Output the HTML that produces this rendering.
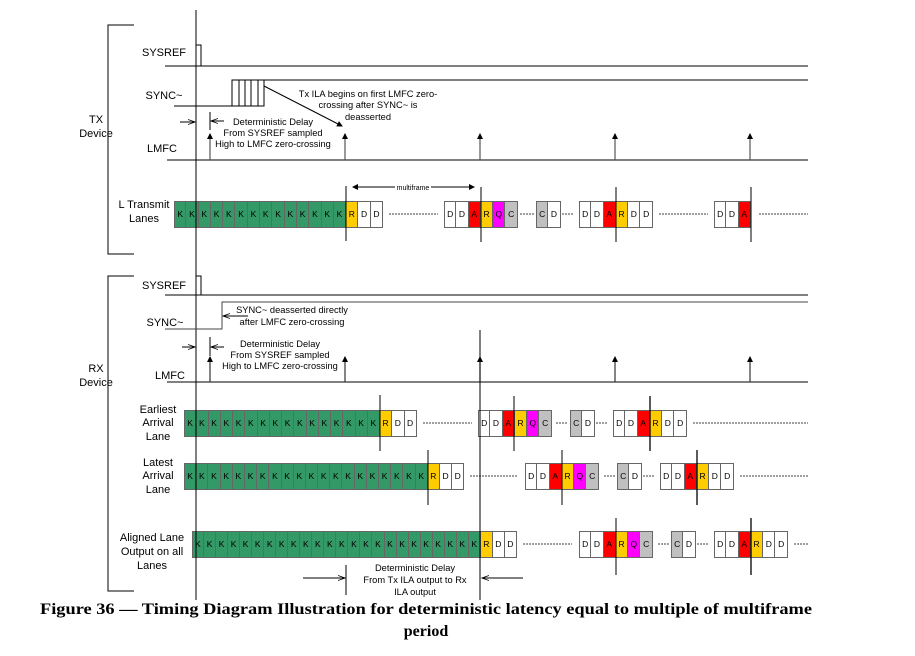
<!DOCTYPE html>
<html><head><meta charset="utf-8"><style>
body{margin:0;width:915px;height:656px;background:#fff;position:relative;overflow:hidden;font-family:"Liberation Sans",sans-serif}
.row{position:absolute;display:flex;height:27px;z-index:1}
.row i{font-style:normal;width:var(--w);box-sizing:border-box;border:1px solid #666;border-left:none;font-size:8.5px;line-height:25px;text-align:center;color:#000;flex:none}
.row i:first-child{border-left:1px solid #666}
.k{background:#339966}.r{background:#ffcc00}.a{background:#ff0000}.q{background:#ff00ff}.c{background:#c0c0c0}.d{background:#fff}
svg{position:absolute;left:0;top:0;z-index:2}
</style></head><body>
<div class="row" style="left:174px;top:201px;--w:12.3px"><i class=k>K</i><i class=k>K</i><i class=k>K</i><i class=k>K</i><i class=k>K</i><i class=k>K</i><i class=k>K</i><i class=k>K</i><i class=k>K</i><i class=k>K</i><i class=k>K</i><i class=k>K</i><i class=k>K</i><i class=k>K</i><i class=r>R</i><i class=d>D</i><i class=d>D</i></div>
<div class="row" style="left:444px;top:201px;--w:12.3px"><i class=d>D</i><i class=d>D</i><i class=a>A</i><i class=r>R</i><i class=q>Q</i><i class=c>C</i></div>
<div class="row" style="left:536px;top:201px;--w:12.3px"><i class=c>C</i><i class=d>D</i></div>
<div class="row" style="left:579px;top:201px;--w:12.3px"><i class=d>D</i><i class=d>D</i><i class=a>A</i><i class=r>R</i><i class=d>D</i><i class=d>D</i></div>
<div class="row" style="left:714px;top:201px;--w:12.3px"><i class=d>D</i><i class=d>D</i><i class=a>A</i></div>

<div class="row" style="left:184px;top:410px;--w:12.25px"><i class=k>K</i><i class=k>K</i><i class=k>K</i><i class=k>K</i><i class=k>K</i><i class=k>K</i><i class=k>K</i><i class=k>K</i><i class=k>K</i><i class=k>K</i><i class=k>K</i><i class=k>K</i><i class=k>K</i><i class=k>K</i><i class=k>K</i><i class=k>K</i><i class=r>R</i><i class=d>D</i><i class=d>D</i></div>
<div class="row" style="left:478px;top:410px;--w:12.3px"><i class=d>D</i><i class=d>D</i><i class=a>A</i><i class=r>R</i><i class=q>Q</i><i class=c>C</i></div>
<div class="row" style="left:570px;top:410px;--w:12.3px"><i class=c>C</i><i class=d>D</i></div>
<div class="row" style="left:613px;top:410px;--w:12.3px"><i class=d>D</i><i class=d>D</i><i class=a>A</i><i class=r>R</i><i class=d>D</i><i class=d>D</i></div>

<div class="row" style="left:184px;top:463px;--w:12.2px"><i class=k>K</i><i class=k>K</i><i class=k>K</i><i class=k>K</i><i class=k>K</i><i class=k>K</i><i class=k>K</i><i class=k>K</i><i class=k>K</i><i class=k>K</i><i class=k>K</i><i class=k>K</i><i class=k>K</i><i class=k>K</i><i class=k>K</i><i class=k>K</i><i class=k>K</i><i class=k>K</i><i class=k>K</i><i class=k>K</i><i class=r>R</i><i class=d>D</i><i class=d>D</i></div>
<div class="row" style="left:525px;top:463px;--w:12.3px"><i class=d>D</i><i class=d>D</i><i class=a>A</i><i class=r>R</i><i class=q>Q</i><i class=c>C</i></div>
<div class="row" style="left:617px;top:463px;--w:12.3px"><i class=c>C</i><i class=d>D</i></div>
<div class="row" style="left:660px;top:463px;--w:12.3px"><i class=d>D</i><i class=d>D</i><i class=a>A</i><i class=r>R</i><i class=d>D</i><i class=d>D</i></div>

<div class="row" style="left:192px;top:531px;--w:12.04px"><i class=k>K</i><i class=k>K</i><i class=k>K</i><i class=k>K</i><i class=k>K</i><i class=k>K</i><i class=k>K</i><i class=k>K</i><i class=k>K</i><i class=k>K</i><i class=k>K</i><i class=k>K</i><i class=k>K</i><i class=k>K</i><i class=k>K</i><i class=k>K</i><i class=k>K</i><i class=k>K</i><i class=k>K</i><i class=k>K</i><i class=k>K</i><i class=k>K</i><i class=k>K</i><i class=k>K</i><i class=r>R</i><i class=d>D</i><i class=d>D</i></div>
<div class="row" style="left:579px;top:531px;--w:12.3px"><i class=d>D</i><i class=d>D</i><i class=a>A</i><i class=r>R</i><i class=q>Q</i><i class=c>C</i></div>
<div class="row" style="left:671px;top:531px;--w:12.3px"><i class=c>C</i><i class=d>D</i></div>
<div class="row" style="left:714px;top:531px;--w:12.3px"><i class=d>D</i><i class=d>D</i><i class=a>A</i><i class=r>R</i><i class=d>D</i><i class=d>D</i></div>

<svg width="915" height="656" viewBox="0 0 915 656">
<defs><marker id="ah" markerWidth="6" markerHeight="6" refX="5" refY="3" orient="auto" markerUnits="userSpaceOnUse"><path d="M0,0 L6,3 L0,6z" fill="#000"/></marker>
<marker id="ao" markerWidth="8" markerHeight="6" refX="7" refY="3" orient="auto" markerUnits="userSpaceOnUse"><path d="M0,0.5 L7,3 L0,5.5" fill="none" stroke="#000" stroke-width="0.8"/></marker></defs>
<g fill="none" stroke="#000" stroke-width="1">
<path d="M134,25 H108 V254 H134"/>
<path d="M134,276 H108 V591 H134"/>
<line x1="196" y1="10" x2="196" y2="600"/>
<path d="M165,66 H201 V45 H196"/><line x1="201" y1="66" x2="808" y2="66"/>
<path d="M174,106 H232 V80 H808"/>
<path d="M232,106 H264 V80 M239,80 V106 M245,80 V106 M251,80 V106 M258,80 V106"/>
<line x1="264" y1="86" x2="342" y2="126" marker-end="url(#ah)"/>
<line x1="167" y1="160" x2="808" y2="160"/>
<g stroke="#555" stroke-width="1.2"><line x1="210" y1="160" x2="210" y2="134" marker-end="url(#ah)"/><line x1="345" y1="160" x2="345" y2="134" marker-end="url(#ah)"/><line x1="480" y1="160" x2="480" y2="134" marker-end="url(#ah)"/><line x1="615" y1="160" x2="615" y2="134" marker-end="url(#ah)"/><line x1="750" y1="160" x2="750" y2="134" marker-end="url(#ah)"/></g>
<line x1="180" y1="122" x2="195" y2="122" marker-end="url(#ao)"/>
<line x1="210" y1="112" x2="210" y2="130"/>
<line x1="224" y1="121" x2="211" y2="121" marker-end="url(#ao)"/>
<line x1="360" y1="187" x2="353" y2="187" marker-end="url(#ah)"/>
<line x1="360" y1="187" x2="474" y2="187" marker-end="url(#ah)"/>
<line x1="346" y1="186" x2="346" y2="241"/><line x1="481" y1="187" x2="481" y2="242"/><line x1="616" y1="187" x2="616" y2="242"/><line x1="751" y1="187" x2="751" y2="242"/>
<g stroke-dasharray="2,1" stroke-width="0.8"><line x1="389" y1="214" x2="438" y2="214"/><line x1="520" y1="214" x2="534" y2="214"/><line x1="562" y1="214" x2="574" y2="214"/><line x1="659" y1="214" x2="708" y2="214"/><line x1="759" y1="214" x2="808" y2="214"/>
<line x1="423" y1="423" x2="472" y2="423"/><line x1="556" y1="423" x2="568" y2="423"/><line x1="596" y1="423" x2="607" y2="423"/><line x1="693" y1="423" x2="808" y2="423"/>
<line x1="470" y1="476" x2="518" y2="476"/><line x1="604" y1="476" x2="615" y2="476"/><line x1="643" y1="476" x2="654" y2="476"/><line x1="740" y1="476" x2="808" y2="476"/>
<line x1="523" y1="544" x2="572" y2="544"/><line x1="658" y1="544" x2="670" y2="544"/><line x1="697" y1="544" x2="708" y2="544"/><line x1="794" y1="544" x2="808" y2="544"/></g>
<path d="M165,295 H201 V276 H196"/><line x1="201" y1="295" x2="808" y2="295"/>
<path d="M165,329 H222 V302 H808" stroke="#444"/>
<line x1="248" y1="316" x2="223" y2="316" marker-end="url(#ao)"/>
<line x1="167" y1="382" x2="808" y2="382"/>
<g stroke="#333" stroke-width="1.2"><line x1="210" y1="382" x2="210" y2="357" marker-end="url(#ah)"/><line x1="345" y1="382" x2="345" y2="357" marker-end="url(#ah)"/><line x1="480" y1="382" x2="480" y2="357" marker-end="url(#ah)"/><line x1="615" y1="382" x2="615" y2="357" marker-end="url(#ah)"/><line x1="750" y1="382" x2="750" y2="357" marker-end="url(#ah)"/></g>
<line x1="480" y1="330" x2="480" y2="600"/>
<line x1="182" y1="347" x2="195" y2="347" marker-end="url(#ao)"/>
<line x1="210" y1="337" x2="210" y2="356"/>
<line x1="224" y1="347" x2="211" y2="347" marker-end="url(#ao)"/>
<line x1="380" y1="395" x2="380" y2="451"/><line x1="514" y1="396" x2="514" y2="451"/><line x1="650" y1="396" x2="650" y2="451" stroke-width="1.3"/>
<line x1="428" y1="450" x2="428" y2="505"/><line x1="562" y1="450" x2="562" y2="505"/><line x1="697" y1="450" x2="697" y2="505" stroke-width="1.3"/>
<line x1="616" y1="518" x2="616" y2="575"/><line x1="751" y1="518" x2="751" y2="575" stroke-width="1.3"/>
<line x1="303" y1="578" x2="345" y2="578" marker-end="url(#ao)"/>
<line x1="346" y1="565" x2="346" y2="595"/>
<line x1="523" y1="578" x2="482" y2="578" marker-end="url(#ao)"/>
</g>
<rect x="395" y="183" width="36" height="8" fill="#fff"/>
<g font-family="Liberation Sans, sans-serif" font-size="11" text-anchor="middle" fill="#000">
<text x="96" y="123">TX</text><text x="96" y="137">Device</text>
<text x="96" y="372">RX</text><text x="96" y="386">Device</text>
<text x="164" y="56">SYSREF</text><text x="164" y="99">SYNC~</text><text x="162" y="152">LMFC</text>
<text x="144" y="208">L Transmit</text><text x="144" y="222">Lanes</text>
<text x="164" y="289">SYSREF</text><text x="165" y="326">SYNC~</text><text x="170" y="379">LMFC</text>
<text x="158" y="413">Earliest</text><text x="158" y="426">Arrival</text><text x="158" y="440">Lane</text>
<text x="158" y="466">Latest</text><text x="158" y="479">Arrival</text><text x="158" y="493">Lane</text>
<text x="152" y="541">Aligned Lane</text><text x="152" y="555">Output on all</text><text x="152" y="569">Lanes</text>
</g>
<g font-family="Liberation Sans, sans-serif" font-size="9.3" text-anchor="middle" fill="#000">
<text x="368" y="97">Tx ILA begins on first LMFC zero-</text><text x="368" y="108">crossing after SYNC~ is</text><text x="368" y="120">deasserted</text>
<text x="273" y="125">Deterministic Delay</text><text x="273" y="136">From SYSREF sampled</text><text x="273" y="147">High to LMFC zero-crossing</text>
<text x="413" y="190" font-size="7">multiframe</text>
<text x="292" y="313">SYNC~ deasserted directly</text><text x="292" y="325">after LMFC zero-crossing</text>
<text x="280" y="347">Deterministic Delay</text><text x="280" y="358">From SYSREF sampled</text><text x="280" y="369">High to LMFC zero-crossing</text>
<text x="415" y="571">Deterministic Delay</text><text x="415" y="583">From Tx ILA output to Rx</text><text x="415" y="595">ILA output</text>
</g>
<g font-family="Liberation Serif, serif" font-weight="bold" font-size="16" text-anchor="middle">
<text x="426" y="614" textLength="772" lengthAdjust="spacingAndGlyphs">Figure 36 — Timing Diagram Illustration for deterministic latency equal to multiple of multiframe</text>
<text x="426" y="636">period</text>
</g>
</svg>
</body></html>
